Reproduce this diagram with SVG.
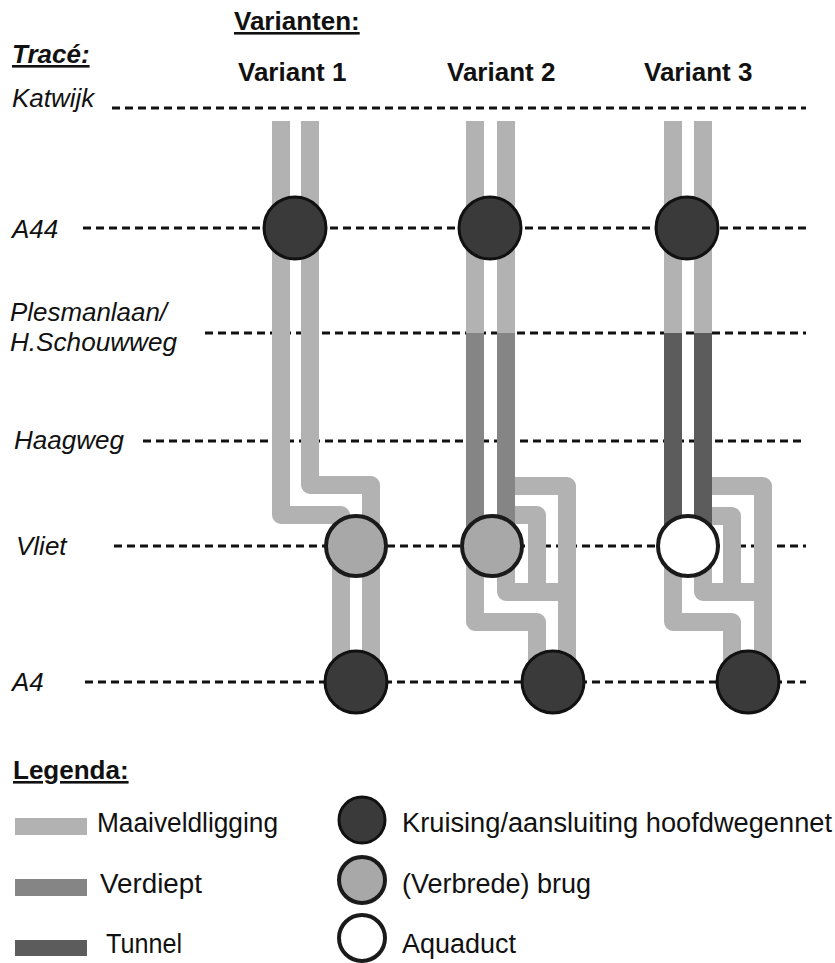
<svg xmlns="http://www.w3.org/2000/svg" width="835" height="963" viewBox="0 0 835 963">
<style>
text{font-family:"Liberation Sans",Arial,sans-serif;fill:#111}
.hd{font-size:26px;font-weight:bold;text-decoration:underline}
.vt{font-size:26px;font-weight:bold}
.lb{font-size:26px;font-style:italic}
.lg{font-size:27px}
.dl{stroke:#111;stroke-width:2.8;stroke-dasharray:8 5;fill:none}
.mv{stroke:#b2b2b2;stroke-width:18;fill:none;stroke-linejoin:round}
.vd{stroke:#858585;stroke-width:18;fill:none;stroke-linejoin:round}
.tn{stroke:#5c5c5c;stroke-width:18;fill:none;stroke-linejoin:round}
.kr{fill:#3a3a3a;stroke:#111;stroke-width:3}
.br{fill:#a8a8a8;stroke:#1a1a1a;stroke-width:4}
.aq{fill:#fff;stroke:#1a1a1a;stroke-width:4}
</style>
<g id="titles">
<text class="hd" x="234" y="30">Varianten:</text>
<text class="hd" x="12" y="63" font-style="italic">Tracé:</text>
<text class="vt" x="238" y="81">Variant 1</text>
<text class="vt" x="447" y="81">Variant 2</text>
<text class="vt" x="644" y="81">Variant 3</text>
</g>
<g id="labels">
<text class="lb" x="12" y="107">Katwijk</text>
<text class="lb" x="12" y="238">A44</text>
<text class="lb" x="10" y="321" font-size="24" textLength="157" lengthAdjust="spacingAndGlyphs">Plesmanlaan/</text>
<text class="lb" x="10" y="351" font-size="24" textLength="167" lengthAdjust="spacingAndGlyphs">H.Schouwweg</text>
<text class="lb" x="14" y="449">Haagweg</text>
<text class="lb" x="16" y="555">Vliet</text>
<text class="lb" x="12" y="691">A4</text>
</g>
<g id="guides">
<line class="dl" x1="112" y1="108" x2="806" y2="108"/>
<line class="dl" x1="83" y1="228" x2="806" y2="228"/>
<line class="dl" x1="205" y1="333" x2="806" y2="333"/>
<line class="dl" x1="143" y1="441" x2="806" y2="441"/>
<line class="dl" x1="114" y1="546" x2="806" y2="546"/>
<line class="dl" x1="85" y1="682" x2="806" y2="682"/>
</g>
<g id="connectors">
<path class="mv" d="M281,121 V515 H341 V682"/>
<path class="mv" d="M310,121 V485 H371 V682"/>
<path class="mv" d="M475,121 V333 M506,121 V333"/>
<path class="mv" d="M475,546 V622 H537 V682"/>
<path class="mv" d="M506,546 V592 H567 V682"/>
<path class="mv" d="M506,486 H567 V592"/>
<path class="mv" d="M506,515 H537 V592"/>
<path class="vd" d="M475,333 V546 M506,333 V546"/>
<path class="mv" d="M673,121 V333 M703,121 V333"/>
<path class="mv" d="M673,546 V622 H732 V682"/>
<path class="mv" d="M703,546 V592 H763 V682"/>
<path class="mv" d="M703,486 H763 V592"/>
<path class="mv" d="M703,516 H732 V592"/>
<path class="tn" d="M673,333 V546 M703,333 V546"/>
</g>
<g id="v1-a44"><circle class="kr" cx="295" cy="228" r="31"/></g>
<g id="v2-a44"><circle class="kr" cx="490" cy="228" r="31"/></g>
<g id="v3-a44"><circle class="kr" cx="687" cy="228" r="31"/></g>
<g id="v1-vliet"><circle class="br" cx="356" cy="546" r="30"/></g>
<g id="v2-vliet"><circle class="br" cx="492" cy="546" r="30"/></g>
<g id="v3-vliet"><circle class="aq" cx="688" cy="546" r="30"/></g>
<g id="v1-a4"><circle class="kr" cx="356" cy="682" r="31"/></g>
<g id="v2-a4"><circle class="kr" cx="553" cy="682" r="31"/></g>
<g id="v3-a4"><circle class="kr" cx="748" cy="682" r="31"/></g>
<g id="legend">
<text class="hd" x="13" y="779">Legenda:</text>
<rect x="15" y="818" width="72" height="17" fill="#b2b2b2"/>
<text class="lg" x="97" y="832" textLength="181" lengthAdjust="spacingAndGlyphs">Maaiveldligging</text>
<rect x="15" y="879" width="72" height="17" fill="#858585"/>
<text class="lg" x="100" y="893" textLength="102" lengthAdjust="spacingAndGlyphs">Verdiept</text>
<rect x="15" y="940" width="72" height="16" fill="#5c5c5c"/>
<text class="lg" x="106" y="953" textLength="76" lengthAdjust="spacingAndGlyphs">Tunnel</text>
<circle class="kr" cx="362" cy="820" r="23"/>
<text class="lg" x="402" y="832" textLength="430" lengthAdjust="spacingAndGlyphs">Kruising/aansluiting hoofdwegennet</text>
<circle class="br" cx="362" cy="880" r="23"/>
<text class="lg" x="402" y="893">(Verbrede) brug</text>
<circle class="aq" cx="362" cy="938" r="23"/>
<text class="lg" x="402" y="953">Aquaduct</text>
</g>
</svg>
